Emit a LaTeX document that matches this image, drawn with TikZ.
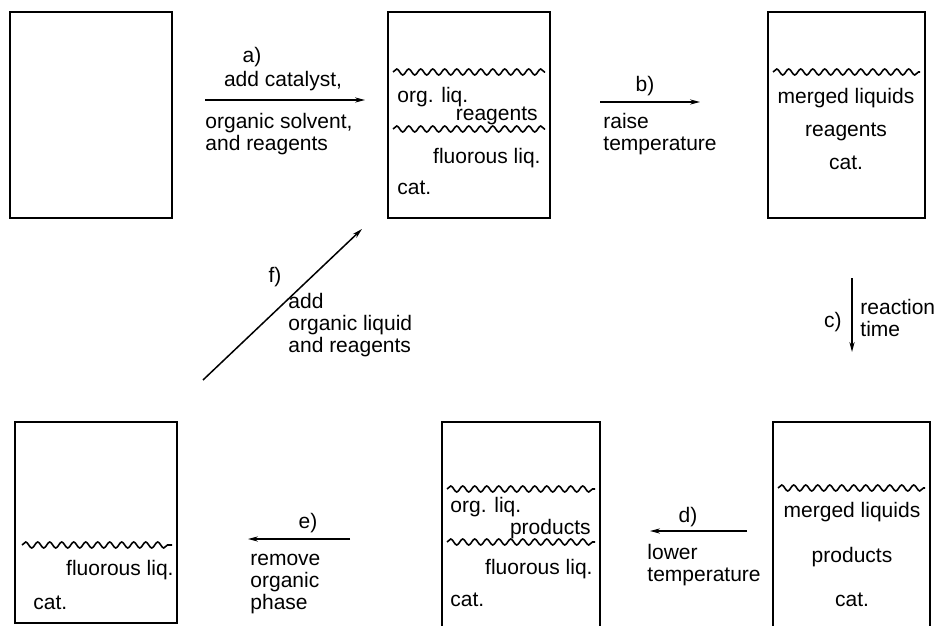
\documentclass[tikz,border=0pt]{standalone}
\usepackage{fontspec}
\setmainfont{Liberation Sans}
\usetikzlibrary{arrows.meta,decorations.pathmorphing}

\begin{document}
\begin{tikzpicture}[x=0.5pt,y=-0.5pt]
\tikzstyle{every node}+=[inner sep=0pt, font=\fontsize{10.5}{11}\selectfont]
\tikzstyle{flask}=[black, line width=1pt]
\tikzstyle{surface}=[decorate, decoration={snake, segment length=6pt, amplitude=1.5pt}, line width=0.8pt]
\tikzstyle{stagearrow}=[-{Stealth[length=5pt,width=2.6pt]}, line width=0.75pt]
\useasboundingbox (0,0) rectangle (945,625);
\clip (0,0) rectangle (945,625);
% top row
\draw [flask] (10,12) rectangle (172,218);
\coordinate (a1) at (205,100);
\coordinate (a2) at (365,100);
\draw [stagearrow] (a1) -- (a2);
\node (lbla) at (252,57) {a)};
\node (adda) at (283,81) {add catalyst,};
\node (solva) [anchor=west, align=left] at (205,134) {organic solvent,\\and reagents};
\draw [flask] (388,12) rectangle (550,218);
\draw [surface] (393,72) -- (545,72);
\node (org2) [anchor=west] at (397,97) {org. liq.};
\node (reag2) [anchor=east] at (538,116) {reagents};
\draw [surface] (393,129) -- (545,129);
\node (fluo2) [anchor=east] at (541,158) {fluorous liq.};
\node (cat2) [anchor=west] at (397,188) {cat.};
\coordinate (b1) at (600,102);
\coordinate (b2) at (700,102);
\draw [stagearrow] (b1) -- (b2);
\node (lblb) at (645,86) {b)};
\node (raise) [anchor=west, align=left] at (603,134) {raise\\temperature};
\draw [flask] (768,12) rectangle (925,218);
\draw [surface] (773,72) -- (920,72);
\node (merg3) at (846,98) {merged liquids};
\node (reag3) at (846,132) {reagents};
\node (cat3) at (846,163) {cat.};
% right side
\coordinate (c1) at (852,278);
\coordinate (c2) at (852,352);
\draw [stagearrow] (c1) -- (c2);
\node (lblc) [anchor=east] at (842,322) {c)};
\node (react) [anchor=west, align=left] at (860,318) {reaction\\time};
% diagonal
\coordinate (f1) at (203,380);
\coordinate (f2) at (362,229);
\draw [stagearrow] (f1) -- (f2);
\node (lblf) at (275,277) {f)};
\node (addf) [anchor=west, align=left] at (288,325) {add\\organic liquid\\and reagents};
% bottom row
\draw [flask] (15,422) rectangle (177,623);
\draw [surface] (22,545) -- (172,545);
\node (fluo4) [anchor=east] at (174,570) {fluorous liq.};
\node (cat4) [anchor=west] at (33,603) {cat.};
\coordinate (e1) at (350,539);
\coordinate (e2) at (248,539);
\draw [stagearrow] (e1) -- (e2);
\node (lble) at (308,523) {e)};
\node (remove) [anchor=west, align=left] at (250,584) {remove\\organic\\phase};
\draw [flask] (442,630) -- (442,422) -- (600,422) -- (600,630);
\draw [surface] (447,489) -- (595,489);
\node (org5) [anchor=west] at (450,507) {org. liq.};
\node (prod5) [anchor=east] at (591,529) {products};
\draw [surface] (447,542) -- (595,542);
\node (fluo5) [anchor=east] at (593,569) {fluorous liq.};
\node (cat5) [anchor=west] at (450,600) {cat.};
\coordinate (d1) at (747,531);
\coordinate (d2) at (650,531);
\draw [stagearrow] (d1) -- (d2);
\node (lbld) at (688,517) {d)};
\node (lower) [anchor=west, align=left] at (647,565) {lower\\temperature};
\draw [flask] (773,630) -- (773,422) -- (930,422) -- (930,630);
\draw [surface] (778,488) -- (925,488);
\node (merg6) at (852,512) {merged liquids};
\node (prod6) at (852,557) {products};
\node (cat6) at (852,600) {cat.};
\end{tikzpicture}
\end{document}
